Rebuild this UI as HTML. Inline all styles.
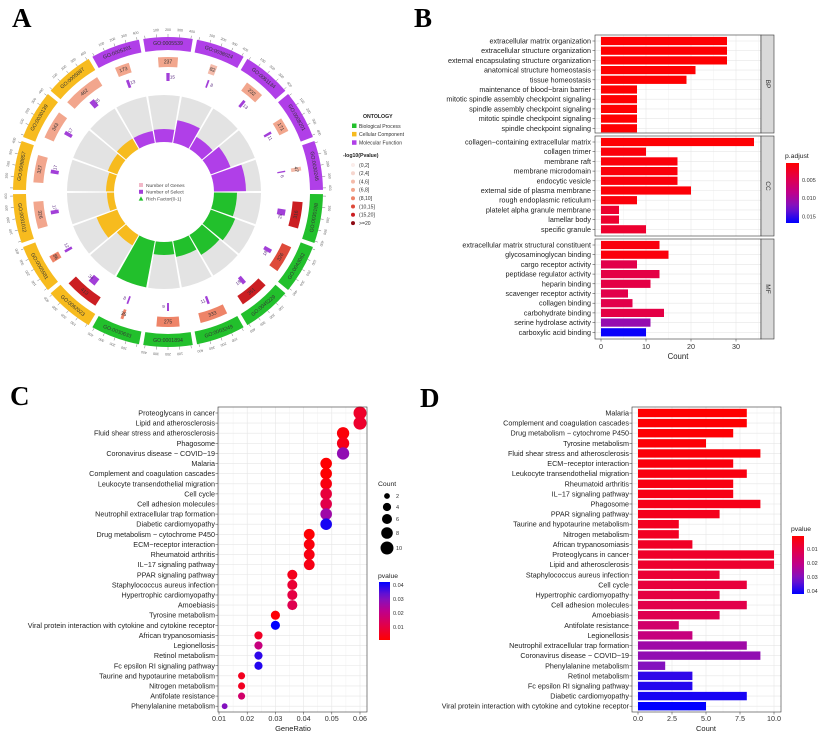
<!DOCTYPE html>
<html><head><meta charset="utf-8">
<style>
html,body{margin:0;padding:0;background:#fff;}
svg{display:block;font-family:"Liberation Sans",sans-serif;}
</style></head>
<body>
<svg id="fig" width="824" height="736" viewBox="0 0 824 736" xmlns="http://www.w3.org/2000/svg">
<text x="12" y="27" font-family="Liberation Serif" font-weight="bold" font-size="27">A</text>
<text x="414" y="27" font-family="Liberation Serif" font-weight="bold" font-size="27">B</text>
<text x="10" y="405" font-family="Liberation Serif" font-weight="bold" font-size="27">C</text>
<text x="420" y="407" font-family="Liberation Serif" font-weight="bold" font-size="27">D</text>
</svg>
<script>
// ---------------- Panel A data ----------------
const aTerms = ["GO:0005539","GO:0038024","GO:0061134","GO:0008201","GO:0030246","GO:0030198","GO:0043062","GO:0045229","GO:0003249","GO:0001894","GO:0030633","GO:0062023","GO:0005581","GO:0031012","GO:0098857","GO:0030139","GO:0005887","GO:0005201"];
const aOnt = ["MF","MF","MF","MF","MF","BP","BP","BP","BP","BP","BP","CC","CC","CC","CC","CC","CC","MF"];
const aGenes = [237,82,232,171,47,316,326,351,333,275,35,413,86,326,327,343,462,173];
const aSelect = [15,8,13,11,6,28,18,18,11,9,8,34,12,17,17,17,25,13];
const aPcat = [3,2,3,3,2,6,5,6,4,4,4,6,4,3,3,3,3,3];
const aRich = [13,23,14,21,32,23,26,23,16,13,47,12,22,7,8,10,12,12];
// ---------------- Panel B data ----------------
const bTerms = ["extracellular matrix organization","extracellular structure organization","external encapsulating structure organization","anatomical structure homeostasis","tissue homeostasis","maintenance of blood−brain barrier","mitotic spindle assembly checkpoint signaling","spindle assembly checkpoint signaling","mitotic spindle checkpoint signaling","spindle checkpoint signaling","collagen−containing extracellular matrix","collagen trimer","membrane raft","membrane microdomain","endocytic vesicle","external side of plasma membrane","rough endoplasmic reticulum","platelet alpha granule membrane","lamellar body","specific granule","extracellular matrix structural constituent","glycosaminoglycan binding","cargo receptor activity","peptidase regulator activity","heparin binding","scavenger receptor activity","collagen binding","carbohydrate binding","serine hydrolase activity","carboxylic acid binding"];
const bCounts = [28,28,28,21,19,8,8,8,8,8,34,10,17,17,17,20,8,4,4,10,13,15,8,13,11,6,7,14,11,10];
const bPadj = [0.0005,0.0005,0.0005,0.0005,0.0005,0.0005,0.0005,0.0005,0.0005,0.0005,0.0006,0.001,0.001,0.001,0.001,0.0008,0.001,0.003,0.003,0.003,0.0012,0.001,0.0045,0.0042,0.0042,0.0045,0.0045,0.0042,0.011,0.0165];
const bGroups = ["BP","CC","MF"];
const bTicks = [0,10,20,30];
const bLegendTicks = [0.005,0.010,0.015];
// ---------------- Panel C data ----------------
const cTerms = ["Proteoglycans in cancer","Lipid and atherosclerosis","Fluid shear stress and atherosclerosis","Phagosome","Coronavirus disease − COVID−19","Malaria","Complement and coagulation cascades","Leukocyte transendothelial migration","Cell cycle","Cell adhesion molecules","Neutrophil extracellular trap formation","Diabetic cardiomyopathy","Drug metabolism − cytochrome P450","ECM−receptor interaction","Rheumatoid arthritis","IL−17 signaling pathway","PPAR signaling pathway","Staphylococcus aureus infection","Hypertrophic cardiomyopathy","Amoebiasis","Tyrosine metabolism","Viral protein interaction with cytokine and cytokine receptor","African trypanosomiasis","Legionellosis","Retinol metabolism","Fc epsilon RI signaling pathway","Taurine and hypotaurine metabolism","Nitrogen metabolism","Antifolate resistance","Phenylalanine metabolism"];
const cRatio = [0.060,0.060,0.054,0.054,0.054,0.048,0.048,0.048,0.048,0.048,0.048,0.048,0.042,0.042,0.042,0.042,0.036,0.036,0.036,0.036,0.030,0.030,0.024,0.024,0.024,0.024,0.018,0.018,0.018,0.012];
const cCount = [10,10,9,9,9,8,8,8,8,8,8,8,7,7,7,7,6,6,6,6,5,5,4,4,4,4,3,3,3,2];
const cPval = [0.0065,0.007,0.002,0.004,0.028,0.0008,0.001,0.003,0.009,0.011,0.026,0.040,0.0012,0.0025,0.0032,0.0035,0.0045,0.008,0.010,0.012,0.0015,0.044,0.006,0.019,0.038,0.039,0.005,0.0055,0.016,0.030];
const cTicks = [0.01,0.02,0.03,0.04,0.05,0.06];
const cSizeTicks = [2,4,6,8,10];
const cLegendTicks = [0.04,0.03,0.02,0.01];
// ---------------- Panel D data ----------------
const dTerms = ["Malaria","Complement and coagulation cascades","Drug metabolism − cytochrome P450","Tyrosine metabolism","Fluid shear stress and atherosclerosis","ECM−receptor interaction","Leukocyte transendothelial migration","Rheumatoid arthritis","IL−17 signaling pathway","Phagosome","PPAR signaling pathway","Taurine and hypotaurine metabolism","Nitrogen metabolism","African trypanosomiasis","Proteoglycans in cancer","Lipid and atherosclerosis","Staphylococcus aureus infection","Cell cycle","Hypertrophic cardiomyopathy","Cell adhesion molecules","Amoebiasis","Antifolate resistance","Legionellosis","Neutrophil extracellular trap formation","Coronavirus disease − COVID−19","Phenylalanine metabolism","Retinol metabolism","Fc epsilon RI signaling pathway","Diabetic cardiomyopathy","Viral protein interaction with cytokine and cytokine receptor"];
const dCount = [8,8,7,5,9,7,8,7,7,9,6,3,3,4,10,10,6,8,6,8,6,3,4,8,9,2,4,4,8,5];
const dPval = [0.0008,0.001,0.0012,0.0015,0.002,0.0025,0.003,0.0032,0.0035,0.004,0.0045,0.005,0.0055,0.006,0.0065,0.007,0.008,0.009,0.010,0.011,0.012,0.016,0.019,0.026,0.028,0.030,0.038,0.039,0.040,0.044];
const dTicks = [0,2.5,5,7.5,10];
const dTickLabels = ["0.0","2.5","5.0","7.5","10.0"];
const dLegendTicks = [0.01,0.02,0.03,0.04];

const NS="http://www.w3.org/2000/svg";
const svg=document.getElementById('fig');
function mk(tag,attrs,parent){const e=document.createElementNS(NS,tag);for(const k in attrs)e.setAttribute(k,attrs[k]);(parent||svg).appendChild(e);return e;}
function txt(s,attrs,parent){const e=mk('text',attrs,parent);e.textContent=s;return e;}
function lerp(a,b,t){return a+(b-a)*t;}
function colorScale(t){t=Math.max(0,Math.min(1,t));const stops=[[255,0,0],[226,0,74],[190,0,140],[120,20,200],[0,0,255]];const p=t*(stops.length-1);const i=Math.min(stops.length-2,Math.floor(p));const f=p-i;const c=stops[i].map((v,j)=>Math.round(lerp(v,stops[i+1][j],f)));return `rgb(${c[0]},${c[1]},${c[2]})`;}
function gradDef(id){let defs=svg.querySelector('defs');if(!defs)defs=mk('defs',{});const g=mk('linearGradient',{id:id,x1:0,y1:0,x2:0,y2:1},defs);for(let i=0;i<=10;i++){mk('stop',{offset:i/10,'stop-color':colorScale(i/10)},g);}return g;}
gradDef('gradRB');

// ================= Panel A =================
(function(){
const g=mk('g',{});


const cy=192;
const ontCol={MF:"#B03FE8",BP:"#22C02C",CC:"#F7BB1E"};
const pCols=["#FBEDEA","#F6D6CF","#F4BBAA","#F2A68D","#EE8468","#DE4A3A","#CB1E22","#8E0A14"];
function pt(cx,r,a){const rad=(a-90)*Math.PI/180;return [cx+r*Math.cos(rad),cy+r*Math.sin(rad)];}
function arc(cx,r0,r1,a0,a1){const p1=pt(cx,r1,a0),p2=pt(cx,r1,a1),p3=pt(cx,r0,a1),p4=pt(cx,r0,a0);const lg=(a1-a0)>180?1:0;return `M${p1[0]},${p1[1]}A${r1},${r1} 0 ${lg} 1 ${p2[0]},${p2[1]}L${p3[0]},${p3[1]}A${r0},${r0} 0 ${lg} 0 ${p4[0]},${p4[1]}Z`;}
const CI=164, CO=168;
const n=aTerms.length, step=360/n;
for(let k=0;k<n;k++){
  const c=k*step; const a0=c-step/2, a1=c+step/2;
  const gb=mk('path',{d:arc(CI,50,97,a0+0.6,a1-0.6),fill:"#E3E3E3"},g);
  
  
  const rb=mk('path',{d:arc(CI,50,50+aRich[k],a0+0.6,a1-0.6),fill:ontCol[aOnt[k]]},g);
  
  
  const ring=mk('path',{d:arc(CO,142,155,a0+0.8,a1-0.8),fill:ontCol[aOnt[k]]},g);
  
  
  for(let t=0;t<=4;t++){const aa=a0+1.5+t*(step-3)/4;const p=pt(CO,155,aa),q=pt(CO,158,aa);const tl=mk('line',{x1:p[0],y1:p[1],x2:q[0],y2:q[1],stroke:"#555","stroke-width":0.4},g);
    if(t>0){const lp=pt(CO,162,aa);const tt=txt(String(t*100),{x:lp[0],y:lp[1],'font-size':3.5,fill:'#666','text-anchor':'middle','dominant-baseline':'middle',transform:`rotate(${aa} ${lp[0]} ${lp[1]})`},g);}}
  const lp=pt(CO,148.5,c);let rot=c;if(c>90&&c<270)rot=c+180;
  const tl=txt(aTerms[k],{x:lp[0],y:lp[1],'font-size':5.2,fill:'#333','text-anchor':'middle','dominant-baseline':'middle',transform:`rotate(${rot} ${lp[0]} ${lp[1]})`},g);
  
  
  const w=aGenes[k]/500*(step-2);
  const gbar=mk('path',{d:arc(CO,125,135,c-w/2,c+w/2),fill:pCols[aPcat[k]]},g);
  
  
  const glp=pt(CO,130,c);
  const gl=txt(String(aGenes[k]),{x:glp[0],y:glp[1],'font-size':5,fill:'#333','text-anchor':'middle','dominant-baseline':'middle',transform:`rotate(${rot} ${glp[0]} ${glp[1]})`},g);
  
  
  const sw=aSelect[k]/500*(step-2)*3;
  const sb=mk('path',{d:arc(CO,111,119,c-sw/2,c+sw/2),fill:"#A23FD8"},g);
  
  
  const slp=pt(CO,115,c+2.2);
  const sl=txt(String(aSelect[k]),{x:slp[0],y:slp[1],'font-size':4.6,fill:'#5a2a80','text-anchor':'middle','dominant-baseline':'middle',transform:`rotate(${rot} ${slp[0]} ${slp[1]})`},g);
  
  
}
const cl=[["Number of Genes","#F2B8C8","rect"],["Number of Select","#A23FD8","rect"],["Rich Factor(0-1)","#22C02C","tri"]];
cl.forEach((it,i)=>{const y=185+i*6.8;
  let m; if(it[2]==="rect"){m=mk('rect',{x:139,y:y-2,width:4,height:4,fill:it[1]},g);}else{m=mk('path',{d:`M141,${y-2.2}L143.3,${y+2}L138.7,${y+2}Z`,fill:it[1]},g);}
  
  
  const t=txt(it[0],{x:146,y:y+1.8,'font-size':4.9,fill:'#444'},g);
  
  });
const lg=mk('g',{},g);


const t1=txt("ONTOLOGY",{x:363,y:118,'font-size':5.2,'font-weight':'bold',fill:'#222'},lg);


[["Biological Process","#22C02C"],["Cellular Component","#F7BB1E"],["Molecular Function","#B03FE8"]].forEach((it,i)=>{const y=126+i*8.4;
  const r=mk('rect',{x:352,y:y-2.5,width:4.5,height:4.5,fill:it[1]},lg);
  const t=txt(it[0],{x:359,y:y+1.8,'font-size':5.1,fill:'#333'},lg);});
const t2=txt("-log10(Pvalue)",{x:343,y:157,'font-size':5.2,'font-weight':'bold',fill:'#222'},lg);


["(0,2]","(2,4]","(4,6]","(6,8]","(8,10]","(10,15]","(15,20]",">=20"].forEach((s,i)=>{const y=165+i*8.3;
  const c=mk('circle',{cx:353,cy:y,r:2,fill:pCols[i]},lg);
  const t=txt(s,{x:359,y:y+1.8,'font-size':5.1,fill:'#333'},lg);});
})();

// ================= Panel B =================
(function(){
const g=mk('g',{});


const L=595,R=761;
const x=v=>601+4.5*v;
const panels=[[35,133],[136,236],[239,339]];
const lo=0.0004,hi=0.0168;
panels.forEach((p,gi)=>{
  const bg=mk('rect',{x:L,y:p[0],width:R-L,height:p[1]-p[0],fill:'#fff'},g);
  
  
  [5,15,25,35].forEach(v=>{const l=mk('line',{x1:x(v),x2:x(v),y1:p[0],y2:p[1],stroke:'#F2F2F2','stroke-width':0.5},g);});
  bTicks.forEach(v=>{const l=mk('line',{x1:x(v),x2:x(v),y1:p[0],y2:p[1],stroke:'#E6E6E6','stroke-width':0.6},g);});
  for(let i=0;i<10;i++){const idx=gi*10+i;const yc=p[0]+6+i*9.7;
    const gl=mk('line',{x1:L,x2:R,y1:yc,y2:yc,stroke:'#E6E6E6','stroke-width':0.6},g);
    const b=mk('rect',{x:x(0),y:yc-4.1,width:x(bCounts[idx])-x(0),height:8.2,fill:colorScale((bPadj[idx]-lo)/(hi-lo))},g);
    
    
    const t=txt(bTerms[idx],{x:591,y:yc+2.5,'font-size':7.2,'text-anchor':'end',fill:'#222'},g);
    
    
    const tk=mk('line',{x1:592.5,x2:595,y1:yc,y2:yc,stroke:'#333','stroke-width':0.5},g);}
  const br=mk('rect',{x:L,y:p[0],width:R-L,height:p[1]-p[0],fill:'none',stroke:'#333','stroke-width':0.6},g);
  
  
  const st=mk('rect',{x:R,y:p[0],width:13,height:p[1]-p[0],fill:'#D9D9D9',stroke:'#333','stroke-width':0.6},g);
  
  
  const my=(p[0]+p[1])/2;
  const sl=txt(bGroups[gi],{x:R+6.5,y:my,'font-size':6.5,'text-anchor':'middle','dominant-baseline':'middle',fill:'#333',transform:`rotate(90 ${R+6.5} ${my})`},g);
  
  
});
bTicks.forEach(v=>{const tk=mk('line',{x1:x(v),x2:x(v),y1:339,y2:341.5,stroke:'#333','stroke-width':0.5},g);
  const t=txt(String(v),{x:x(v),y:349,'font-size':7.2,'text-anchor':'middle',fill:'#333'},g);});
const xt=txt("Count",{x:678,y:359,'font-size':7.8,'text-anchor':'middle',fill:'#222'},g);


const lt=txt("p.adjust",{x:785,y:158,'font-size':6.8,fill:'#222'},g);


const cb=mk('rect',{x:786,y:163,width:13,height:60,fill:'url(#gradRB)'},g);


bLegendTicks.forEach(v=>{const y=163+60*(v-lo)/(hi-lo);const t=txt(v.toFixed(3),{x:802,y:y+2,'font-size':5.5,fill:'#333'},g);});
})();

// ================= Panel C =================
(function(){
const g=mk('g',{});


const L=218,R=367,T=407,B=712;
const x=v=>219+(v-0.01)*(141/0.05);
const yy=i=>413+i*10.11;
const lo=0.0007,hi=0.042;
[0.015,0.025,0.035,0.045,0.055].forEach(v=>{const l=mk('line',{x1:x(v),x2:x(v),y1:T,y2:B,stroke:'#F2F2F2','stroke-width':0.5},g);});
cTicks.forEach(v=>{const l=mk('line',{x1:x(v),x2:x(v),y1:T,y2:B,stroke:'#E6E6E6','stroke-width':0.6},g);});
cTerms.forEach((s,i)=>{const y=yy(i);
  const l=mk('line',{x1:L,x2:R,y1:y,y2:y,stroke:'#E6E6E6','stroke-width':0.6},g);
  const t=txt(s,{x:215,y:y+2.5,'font-size':7.2,'text-anchor':'end',fill:'#222'},g);
  const tk=mk('line',{x1:215.5,x2:218,y1:y,y2:y,stroke:'#333','stroke-width':0.5},g);});
cTerms.forEach((s,i)=>{const c=mk('circle',{cx:x(cRatio[i]),cy:yy(i),r:Math.sqrt(cCount[i])*2.05,fill:colorScale((cPval[i]-lo)/(hi-lo))},g);
  
  });
const br=mk('rect',{x:L,y:T,width:R-L,height:B-T,fill:'none',stroke:'#333','stroke-width':0.6},g);


cTicks.forEach(v=>{const tk=mk('line',{x1:x(v),x2:x(v),y1:B,y2:B+2.5,stroke:'#333','stroke-width':0.5},g);
  const t=txt(String(v),{x:x(v),y:721,'font-size':7.2,'text-anchor':'middle',fill:'#333'},g);});
const xt=txt("GeneRatio",{x:293,y:731,'font-size':7.5,'text-anchor':'middle',fill:'#222'},g);


const st=txt("Count",{x:378,y:486,'font-size':6.8,fill:'#222'},g);


cSizeTicks.forEach((v,i)=>{const y=[496,507,519,533,548][i];
  const c=mk('circle',{cx:387,cy:y,r:Math.sqrt(v)*2.05,fill:'#000'},g);
  const t=txt(String(v),{x:396,y:y+2,'font-size':5.5,fill:'#333'},g);});
const lt=txt("pvalue",{x:378,y:578,'font-size':6.8,fill:'#222'},g);


const cb=mk('rect',{x:379,y:582,width:11,height:58,fill:'url(#gradRB)',transform:'rotate(180 384.5 611)'},g);


cLegendTicks.forEach(v=>{const y=640-58*(v-lo)/(hi-lo);const t=txt(v.toFixed(2),{x:393,y:y+2,'font-size':5.5,fill:'#333'},g);});
})();

// ================= Panel D =================
(function(){
const g=mk('g',{});


const L=632,R=781,T=407,B=712;
const x=v=>638+13.6*v;
const yy=i=>413+i*10.11;
const lo=0.0007,hi=0.0421;
[1.25,3.75,6.25,8.75].forEach(v=>{const l=mk('line',{x1:x(v),x2:x(v),y1:T,y2:B,stroke:'#F2F2F2','stroke-width':0.5},g);});
dTicks.forEach(v=>{const l=mk('line',{x1:x(v),x2:x(v),y1:T,y2:B,stroke:'#E6E6E6','stroke-width':0.6},g);});
dTerms.forEach((s,i)=>{const y=yy(i);
  const l=mk('line',{x1:L,x2:R,y1:y,y2:y,stroke:'#E6E6E6','stroke-width':0.6},g);
  const b=mk('rect',{x:x(0),y:y-4.2,width:x(dCount[i])-x(0),height:8.4,fill:colorScale((dPval[i]-lo)/(hi-lo))},g);
  
  
  const t=txt(s,{x:629,y:y+2.5,'font-size':7.2,'text-anchor':'end',fill:'#222'},g);
  const tk=mk('line',{x1:629.5,x2:632,y1:y,y2:y,stroke:'#333','stroke-width':0.5},g);});
const br=mk('rect',{x:L,y:T,width:R-L,height:B-T,fill:'none',stroke:'#333','stroke-width':0.6},g);


dTicks.forEach((v,i)=>{const tk=mk('line',{x1:x(v),x2:x(v),y1:B,y2:B+2.5,stroke:'#333','stroke-width':0.5},g);
  const t=txt(dTickLabels[i],{x:x(v),y:721,'font-size':7.2,'text-anchor':'middle',fill:'#333'},g);});
const xt=txt("Count",{x:706,y:731,'font-size':7.5,'text-anchor':'middle',fill:'#222'},g);


const lt=txt("pvalue",{x:791,y:531,'font-size':6.8,fill:'#222'},g);


const cb=mk('rect',{x:792,y:536,width:12,height:58,fill:'url(#gradRB)'},g);


dLegendTicks.forEach(v=>{const y=536+58*(v-lo)/(hi-lo);const t=txt(v.toFixed(2),{x:807,y:y+2,'font-size':5.5,fill:'#333'},g);});
})();
</script>
</body></html>
